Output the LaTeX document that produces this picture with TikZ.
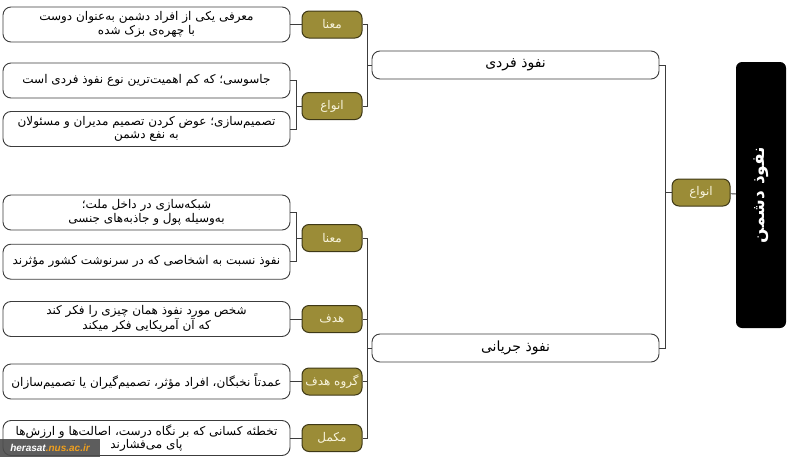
\documentclass[tikz,border=0pt]{standalone}
\usepackage{fontspec}
\usetikzlibrary{positioning}
\TeXXeTstate=1
\newfontfamily\farsi[Script=Arabic]{DejaVu Sans}
\newfontfamily\marksans{Liberation Sans}
\newcommand{\fa}[1]{\beginR#1\endR}
\definecolor{tagolive}{RGB}{155, 140, 55}
\definecolor{tagedge}{RGB}{62, 56, 22}
\definecolor{tagtext}{RGB}{248, 244, 220}
\definecolor{linkgray}{RGB}{60, 60, 60}
\definecolor{markorange}{RGB}{240, 160, 30}
\tikzset{
  leafbox/.style={draw=linkgray, line width=0.9pt, rounded corners=8pt, fill=white,
    minimum width=287pt, minimum height=35pt, inner sep=1pt, align=center,
    font=\farsi\fontsize{12}{13.5}\selectfont},
  tagbox/.style={draw=tagedge, line width=1pt, rounded corners=7pt, fill=tagolive,
    text=tagtext, minimum width=60pt, minimum height=27pt, inner sep=0pt,
    font=\farsi\fontsize{12}{14}\selectfont},
  mainbox/.style={draw=linkgray, line width=0.9pt, rounded corners=8pt, fill=white,
    minimum width=287pt, minimum height=28pt, inner sep=1pt,
    font=\farsi\fontsize{14}{16}\selectfont},
  link/.style={draw=linkgray, line width=0.9pt}
}
\begin{document}
\begin{tikzpicture}[x=1pt, y=-1pt]
  \useasboundingbox (0,0) rectangle (795,466);

  \node[fill=black, rounded corners=6pt, rotate=90, minimum width=266pt, minimum height=50pt,
        text=white, font=\farsi\bfseries\fontsize{17}{19}\selectfont] (root) at (761,195) {\fa{نفوذ دشمن}};
  \node[tagbox, minimum width=58pt] (types) at (701,192.5) {\fa{انواع}};

  \node[mainbox] (fardi) at (515.5,65) {\fa{نفوذ فردی}};
  \node[mainbox] (jaryani) at (515.5,348) {\fa{نفوذ جریانی}};

  \node[tagbox] (mana1) at (332,24.5) {\fa{معنا}};
  \node[tagbox] (types1) at (332,106) {\fa{انواع}};
  \node[tagbox] (mana2) at (332,238) {\fa{معنا}};
  \node[tagbox] (hadaf) at (332,319) {\fa{هدف}};
  \node[tagbox] (goal) at (332,381.5) {\fa{گروه هدف}};
  \node[tagbox] (comp) at (332,438) {\fa{مکمل}};

  \node[leafbox] (leaf1) at (146.5,24.5) {\fa{معرفی یکی از افراد دشمن به‌عنوان دوست}\\\fa{با چهره‌ی بزک شده}};
  \node[leafbox] (leaf2) at (146.5,80.5) {\fa{جاسوسی؛ که کم اهمیت‌ترین نوع نفوذ فردی است}};
  \node[leafbox] (leaf3) at (146.5,129) {\fa{تصمیم‌سازی؛ عوض کردن تصمیم مدیران و مسئولان}\\\fa{به نفع دشمن}};
  \node[leafbox] (leaf4) at (146.5,212.5) {\fa{شبکه‌سازی در داخل ملت؛}\\\fa{به‌وسیله پول و جاذبه‌های جنسی}};
  \node[leafbox] (leaf5) at (146.5,261.7) {\fa{نفوذ نسبت به اشخاصی که در سرنوشت کشور مؤثرند}};
  \node[leafbox] (leaf6) at (146.5,319) {\fa{شخص مورد نفوذ همان چیزی را فکر کند}\\\fa{که آن آمریکایی فکر میکند}};
  \node[leafbox] (leaf7) at (146.5,381.5) {\fa{عمدتاً نخبگان، افراد مؤثر، تصمیم‌گیران یا تصمیم‌سازان}};
  \node[leafbox] (leaf8) at (146.5,438) {\fa{تخطئه کسانی که بر نگاه درست، اصالت‌ها و ارزش‌ها}\\\fa{پای می‌فشارند}};

  \coordinate (j1) at (296,106);
  \coordinate (j2) at (296,238);
  \coordinate (j3) at (367,65);
  \coordinate (j4) at (367,348);
  \coordinate (j5) at (665,192.5);

  \draw[link] (types) -- (root);
  \draw[link] (fardi.east) -| (j5);
  \draw[link] (jaryani.east) -| (j5);
  \draw[link] (j5) -- (types.west);

  \draw[link] (mana1.east) -| (j3);
  \draw[link] (types1.east) -| (j3);
  \draw[link] (j3) -- (fardi.west);
  \foreach \tag in {mana2, hadaf, goal, comp}
    \draw[link] (\tag.east) -| (j4);
  \draw[link] (j4) -- (jaryani.west);

  \draw[link] (leaf1) -- (mana1);
  \draw[link] (leaf2.east) -| (j1);
  \draw[link] (leaf3.east) -| (j1);
  \draw[link] (j1) -- (types1.west);
  \draw[link] (leaf4.east) -| (j2);
  \draw[link] (leaf5.east) -| (j2);
  \draw[link] (j2) -- (mana2.west);
  \draw[link] (leaf6) -- (hadaf);
  \draw[link] (leaf7) -- (goal);
  \draw[link] (leaf8) -- (comp);

  \node[fill=black!70, fill opacity=0.9, text opacity=1, minimum width=100pt, minimum height=18pt,
        inner sep=0pt, font=\marksans\bfseries\itshape\fontsize{10}{12}\selectfont] (mark) at (50,448)
        {\textcolor{white}{herasat}\textcolor{markorange}{.nus.ac.ir}};
\end{tikzpicture}
\end{document}
